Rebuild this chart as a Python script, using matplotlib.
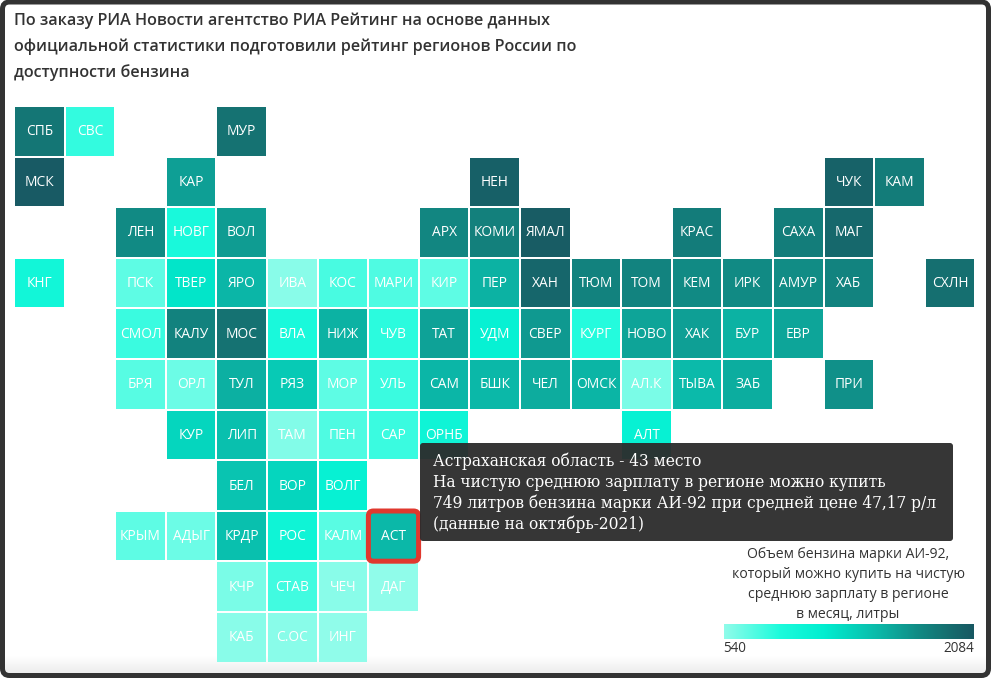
import numpy as np
import matplotlib
matplotlib.use('Agg')
import matplotlib.pyplot as plt
from matplotlib.colors import LinearSegmentedColormap, to_rgb
from matplotlib.patches import Rectangle, FancyBboxPatch

# регион, колонка, ряд, литры (оценка по цвету)
names = ['СПБ', 'СВС', 'МУР',
         'МСК', 'КАР', 'НЕН', 'ЧУК', 'КАМ',
         'ЛЕН', 'НОВГ', 'ВОЛ', 'АРХ', 'КОМИ', 'ЯМАЛ', 'КРАС', 'САХА', 'МАГ',
         'КНГ', 'ПСК', 'ТВЕР', 'ЯРО', 'ИВА', 'КОС', 'МАРИ', 'КИР', 'ПЕР', 'ХАН', 'ТЮМ', 'ТОМ', 'КЕМ', 'ИРК', 'АМУР', 'ХАБ', 'СХЛН',
         'СМОЛ', 'КАЛУ', 'МОС', 'ВЛА', 'НИЖ', 'ЧУВ', 'ТАТ', 'УДМ', 'СВЕР', 'КУРГ', 'НОВО', 'ХАК', 'БУР', 'ЕВР',
         'БРЯ', 'ОРЛ', 'ТУЛ', 'РЯЗ', 'МОР', 'УЛЬ', 'САМ', 'БШК', 'ЧЕЛ', 'ОМСК', 'АЛ.К', 'ТЫВА', 'ЗАБ', 'ПРИ',
         'КУР', 'ЛИП', 'ТАМ', 'ПЕН', 'САР', 'ОРНБ', 'АЛТ',
         'БЕЛ', 'ВОР', 'ВОЛГ',
         'КРЫМ', 'АДЫГ', 'КРДР', 'РОС', 'КАЛМ', 'АСТ',
         'КЧР', 'СТАВ', 'ЧЕЧ', 'ДАГ',
         'КАБ', 'С.ОС', 'ИНГ']
cols = [0, 1, 4,
        0, 3, 9, 16, 17,
        2, 3, 4, 8, 9, 10, 13, 15, 16,
        0, 2, 3, 4, 5, 6, 7, 8, 9, 10, 11, 12, 13, 14, 15, 16, 18,
        2, 3, 4, 5, 6, 7, 8, 9, 10, 11, 12, 13, 14, 15,
        2, 3, 4, 5, 6, 7, 8, 9, 10, 11, 12, 13, 14, 16,
        3, 4, 5, 6, 7, 8, 12,
        4, 5, 6,
        2, 3, 4, 5, 6, 7,
        4, 5, 6, 7,
        4, 5, 6]
rows = [0] * 3 + [1] * 5 + [2] * 9 + [3] * 17 + [4] * 14 + [5] * 14 + [6] * 7 + [7] * 3 + [8] * 6 + [9] * 4 + [10] * 3
litres = [1150, 605, 1200,
          2000, 830, 1800, 1750, 1080,
          900, 625, 840, 950, 1030, 1950, 1070, 1060, 1550,
          635, 575, 675, 755, 545, 590, 585, 575, 770, 1600, 1000, 990, 900, 905, 895, 985, 1300,
          600, 1000, 1200, 625, 770, 610, 820, 650, 850, 615, 815, 830, 770, 810,
          580, 565, 775, 720, 575, 600, 755, 750, 790, 760, 555, 745, 785, 880,
          700, 735, 550, 585, 600, 640, 650,
          730, 700, 650,
          575, 565, 735, 640, 578, 749,
          555, 595, 545, 540,
          545, 545, 540]

title_lines = ['По заказу РИА Новости агентство РИА Рейтинг на основе данных',
               'официальной статистики подготовили рейтинг регионов России по',
               'доступности бензина']
tooltip_lines = ['Астраханская область - 43 место',
                 'На чистую среднюю зарплату в регионе можно купить',
                 '749 литров бензина марки АИ-92 при средней цене 47,17 р/л',
                 '(данные на октябрь-2021)']
legend_lines = ['Объем бензина марки АИ-92,',
                'который можно купить на чистую',
                'среднюю зарплату в регионе',
                'в месяц, литры']
scale_values = [540, 620, 660, 749, 900, 1200, 2084]
scale_colors = ['#90fcea', '#1dfbdc', '#00eed0', '#0bb8a8', '#118a84', '#157272', '#185862']
ramp_positions = [0, 0.22, 0.4, 0.62, 0.78, 0.88, 1]

W, H = 992, 679
fig = plt.figure(figsize=(W / 100, H / 100), dpi=100)
ax = fig.add_axes([0, 0, 1, 1])
ax.set_xlim(0, W)
ax.set_ylim(H, 0)
ax.axis('off')

plt.rcParams['font.family'] = ['Open Sans', 'DejaVu Sans']
px = 0.72

rgb = np.array([to_rgb(c) for c in scale_colors])


def colour(v):
    return [np.interp(v, scale_values, rgb[:, i]) for i in range(3)]


# серая тень внизу и рамка
shade = np.linspace(1, 0.93, 20)[:, None]
ax.imshow(shade, extent=[4, 988, 673, 655], cmap='gray', vmin=0, vmax=1, aspect='auto', zorder=0)
ax.set_xlim(0, W)
ax.set_ylim(H, 0)
ax.add_patch(FancyBboxPatch((2.5, 2), 986, 673.5, boxstyle='round,pad=0,rounding_size=7',
                            fc='none', ec='#333333', lw=3.6, zorder=6))

for i, line in enumerate(title_lines):
    ax.text(14, 20.5 + 26 * i, line, fontsize=16.1 * px, fontweight=600, color='#333333', va='center')

x0, y0, step, size = 15, 107, 50.6, 48.6
for name, c, r, v in zip(names, cols, rows, litres):
    x = x0 + c * step
    y = y0 + r * step
    ax.add_patch(Rectangle((x, y), size, size, fc=colour(v), ec='none', zorder=1))
    ax.text(x + size / 2, y + size / 2 + 0.5, name, fontsize=13.7 * px, color='white', ha='center', va='center', zorder=2)

# выделенный регион
k = names.index('АСТ')
ax.add_patch(FancyBboxPatch((x0 + cols[k] * step, y0 + rows[k] * step), size, size,
                            boxstyle='round,pad=0.8,rounding_size=5', fc='none', ec='#e0382e', lw=3.6, zorder=3))

# подсказка
ax.add_patch(FancyBboxPatch((420, 443), 533, 98, boxstyle='round,pad=0,rounding_size=3',
                            fc='#2b2b2b', ec='none', alpha=0.95, zorder=4))
for i, line in enumerate(tooltip_lines):
    ax.text(433, 461 + 21.2 * i, line, fontsize=15.55 * px, family=['DejaVu Serif'],
            color='white', va='center', zorder=5)

# легенда
for i, line in enumerate(legend_lines):
    ax.text(848, 554.5 + 20 * i, line, fontsize=14 * px, color='#333333', ha='center', va='center')
cmap = LinearSegmentedColormap.from_list('ramp', list(zip(ramp_positions, scale_colors)))
ax.imshow(np.linspace(0, 1, 256)[None, :], extent=[724, 974, 639, 624], cmap=cmap, aspect='auto', zorder=1)
ax.set_xlim(0, W)
ax.set_ylim(H, 0)
ax.text(723, 649, str(scale_values[0]), fontsize=13.5 * px, color='#333333', va='center')
ax.text(974, 649, str(scale_values[-1]), fontsize=13.5 * px, color='#333333', va='center', ha='right')

fig.savefig('out.png', dpi=100, facecolor='white')
